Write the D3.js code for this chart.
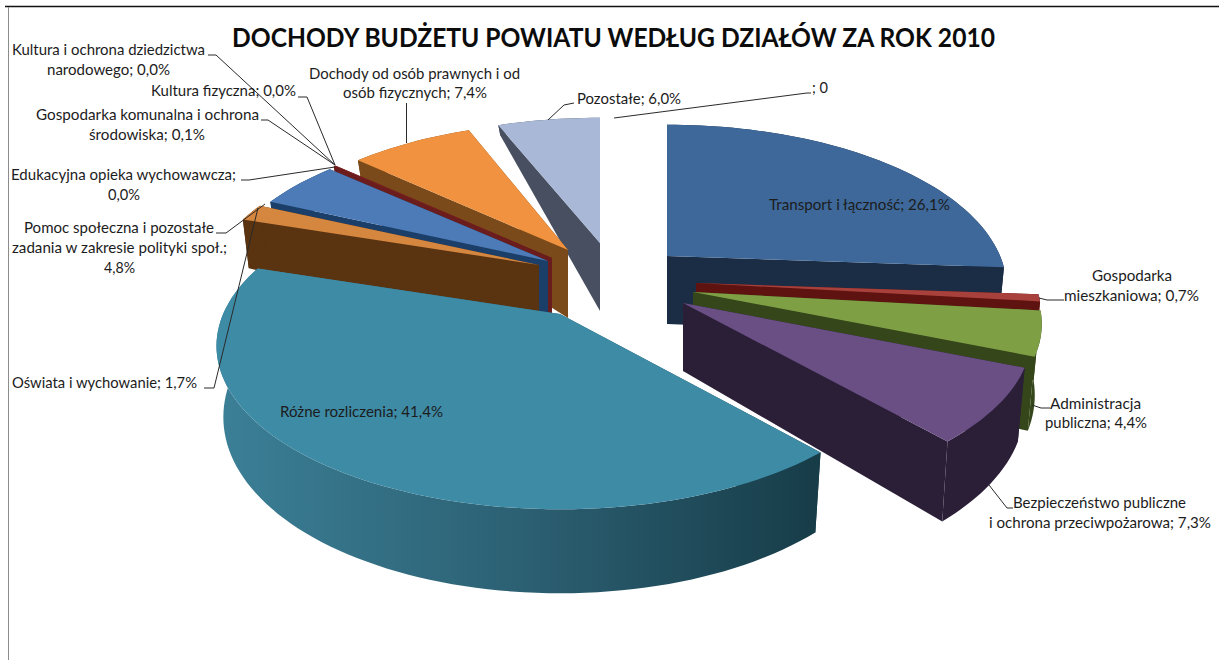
<!DOCTYPE html>
<html>
<head>
<meta charset="utf-8">
<script src="https://d3js.org/d3.v7.min.js"></script>
<style>
  html, body { margin: 0; padding: 0; background: #fff; }
  svg { display: block; }
  text { font-family: Lato, "Open Sans", sans-serif; fill: #1c1c1c; }
</style>
</head>
<body>
<div id="chart"></div>
<script>
// Data, percent of the budget, in the order the chart has them
var categories = ["Transport i łączność", "Gospodarka mieszkaniowa", "Administracja publiczna",
  "Bezpieczeństwo publiczne i ochrona przeciwpożarowa", "Różne rozliczenia", "Oświata i wychowanie",
  "Pomoc społeczna i pozostałe zadania w zakresie polityki społ.", "Edukacyjna opieka wychowawcza",
  "Gospodarka komunalna i ochrona środowiska", "Kultura fizyczna", "Kultura i ochrona dziedzictwa narodowego",
  "Dochody od osób prawnych i od osób fizycznych", "Pozostałe", ""];
var values = [26.1, 0.7, 4.4, 7.3, 41.4, 1.7, 4.8, 0.0, 0.1, 0.0, 0.0, 7.4, 6.0, 0];

// Styling per slice
var topColors = ["#3d6899", "#a8403c", "#7f9f45", "#6a4f85", "#3e8ba6", "#d5863f", "#4c7bb8",
  "#888", "#7a2020", "#888", "#888", "#f0923f", "#a8b8d6", "#888"];
var wallColors = ["#1b2c45", "#5e1310", "#34461a", "#2b1f38", "url(#tealWall)", "#5a3311", "#1b3f68",
  "#444", "#6b1c1c", "#444", "#444", "#7a4a1a", "#474f60", "#444"];

// How far each slice is pulled out of the pie, in pixels
var explodeX = [42, 71, 68, 58, -65, -86, -77, 0, -73, 0, 0, -57, -25, 0];
var explodeY = [-24, 3, 12, 23, 34, -15, -19, 0, -22, 0, 0, -30, -37, 0];
// Excel's perspective draws some slices a bit smaller
var sizeX = [0.974, 0.99, 1, 1, 0.985, 0.965, 0.96, 1, 0.96, 1, 1, 0.93, 0.954, 1];
var sizeY = [1, 1, 1, 1, 1, 1, 1, 1, 1, 1, 1, 0.97, 0.954, 1];

// Back to front
var drawOrder = [0, 12, 11, 8, 6, 5, 1, 2, 3, 4];

var width = 1219, height = 660;
var cx = 625, cy = 280;
var radiusX = 342, radiusY = 157, persp = 0.196;

// wall height grows towards the viewer
var depth = d3.scaleLinear().domain([-1, 0, 1]).range([6, 68, 84]);

var svg = d3.select("#chart").append("svg")
  .attr("width", width)
  .attr("height", height);

var grad = svg.append("defs").append("linearGradient")
  .attr("id", "tealWall")
  .attr("gradientUnits", "userSpaceOnUse")
  .attr("x1", 222).attr("x2", 820).attr("y1", 0).attr("y2", 0);
grad.append("stop").attr("offset", "0%").attr("stop-color", "#3b7f96");
grad.append("stop").attr("offset", "50%").attr("stop-color", "#2c6073");
grad.append("stop").attr("offset", "100%").attr("stop-color", "#173c48");

// frame left over from the screenshot
svg.append("line").attr("x1", 5).attr("x2", width).attr("y1", 6.5).attr("y2", 6.5)
  .attr("stroke", "#111").attr("stroke-width", 1.5);
svg.append("line").attr("x1", 8.5).attr("x2", 8.5).attr("y1", 7).attr("y2", height)
  .attr("stroke", "#8c8c8c");

var pie = d3.pie().sort(null).value(function(d) { return d; });
var arcs = pie(values);
var line = d3.line();

function project(i, angle, r, bottom) {
  var X = r * Math.sin(angle);
  var V = -r * Math.cos(angle);
  var w = 1 - persp * V;
  var x = cx + explodeX[i] + sizeX[i] * radiusX * X / w * (bottom ? 0.98 : 1);
  var y = cy + explodeY[i] + sizeY[i] * radiusY * V / w + (bottom ? depth(V) : 0);
  return [x, y];
}

function rim(i, a0, a1, bottom) {
  var n = Math.max(2, Math.ceil((a1 - a0) / 0.03));
  return d3.range(n + 1).map(function(k) {
    return project(i, a0 + (a1 - a0) * k / n, 1, bottom);
  });
}

var slices = svg.selectAll("g.slice")
  .data(drawOrder.map(function(i) { return { i: i, a: arcs[i] }; }))
  .enter().append("g")
  .attr("class", "slice");

slices.each(function(d) {
  var g = d3.select(this), i = d.i, a0 = d.a.startAngle, a1 = d.a.endAngle;
  var apex = project(i, 0, 0, false), apexB = project(i, 0, 0, true);
  var top = rim(i, a0, a1, false), bot = rim(i, a0, a1, true);
  // two radial walls
  [a0, a1].forEach(function(a) {
    g.append("path")
      .attr("d", line([apex, project(i, a, 1, false), project(i, a, 1, true), apexB]) + "Z")
      .attr("fill", wallColors[i]);
  });
  // outer wall
  g.append("path")
    .attr("d", line(top.concat(bot.slice().reverse())) + "Z")
    .attr("fill", wallColors[i]);
  // top face
  g.append("path")
    .attr("d", line([apex].concat(top)) + "Z")
    .attr("fill", topColors[i]);
});

// Labels: one row per printed line [text, left, right, baseline]
var labelRows = [
  ["Kultura i ochrona dziedzictwa", 12, 205, 55],
  ["narodowego; 0,0%", 47, 170, 75],
  ["Kultura fizyczna; 0,0%", 151, 296, 96],
  ["Dochody od osób prawnych i od", 309, 520, 79],
  ["osób fizycznych; 7,4%", 343, 487, 98],
  ["Gospodarka komunalna i ochrona", 36, 259, 120],
  ["środowiska; 0,1%", 89, 205, 140],
  ["Edukacyjna opieka wychowawcza;", 11, 236, 180],
  ["0,0%", 108, 140, 200],
  ["Pomoc społeczna i pozostałe", 24, 214, 233],
  ["zadania w zakresie polityki społ.;", 12, 227, 253],
  ["4,8%", 104, 135, 273],
  ["Oświata i wychowanie; 1,7%", 12, 197, 388],
  ["Pozostałe; 6,0%", 577, 681, 104],
  ["; 0", 812, 828, 93],
  ["Gospodarka", 1092, 1172, 281],
  ["mieszkaniowa; 0,7%", 1064, 1199, 301],
  ["Administracja", 1050, 1141, 409],
  ["publiczna; 4,4%", 1045, 1147, 428],
  ["Bezpieczeństwo publiczne", 1013, 1186, 508],
  ["i ochrona przeciwpożarowa; 7,3%", 989, 1211, 528],
  ["Transport i łączność; 26,1%", 769, 950, 210],
  ["Różne rozliczenia; 41,4%", 280, 443, 417]
];

// Leader lines from the labels to their slices
var leaders = [
  [[208, 55], [216, 55], [335, 165]],
  [[298, 97], [307, 97], [335, 165]],
  [[261, 120], [268, 120], [335, 165]],
  [[241, 180], [249, 180], [335, 167]],
  [[406.5, 103], [406.5, 143]],
  [[574, 103], [564, 105], [548, 120]],
  [[216, 233], [226, 233], [265, 204]],
  [[204, 388], [214, 388], [258, 208]],
  [[614, 118], [807, 93], [811, 93]],
  [[1039, 298], [1047, 300], [1064, 300]],
  [[1032, 405], [1041, 408], [1050, 408]],
  [[989, 485], [1007, 508], [1013, 508]]
];

svg.selectAll("path.leader")
  .data(leaders)
  .enter().append("path")
  .attr("class", "leader")
  .attr("d", function(d) { return line(d); })
  .attr("fill", "none")
  .attr("stroke", "#2a2a2a")
  .attr("stroke-width", 1);

svg.selectAll("text.label")
  .data(labelRows)
  .enter().append("text")
  .attr("class", "label")
  .attr("x", function(d) { return d[1]; })
  .attr("y", function(d) { return d[3]; })
  .attr("textLength", function(d) { return d[2] - d[1]; })
  .attr("lengthAdjust", "spacingAndGlyphs")
  .attr("font-size", 15)
  .text(function(d) { return d[0]; });

svg.append("text")
  .attr("x", 232)
  .attr("y", 47)
  .attr("textLength", 763)
  .attr("lengthAdjust", "spacingAndGlyphs")
  .attr("font-size", 26)
  .attr("font-weight", 700)
  .style("fill", "#0c0c0c")
  .text("DOCHODY BUDŻETU POWIATU WEDŁUG DZIAŁÓW ZA ROK 2010");
</script>
</body>
</html>
